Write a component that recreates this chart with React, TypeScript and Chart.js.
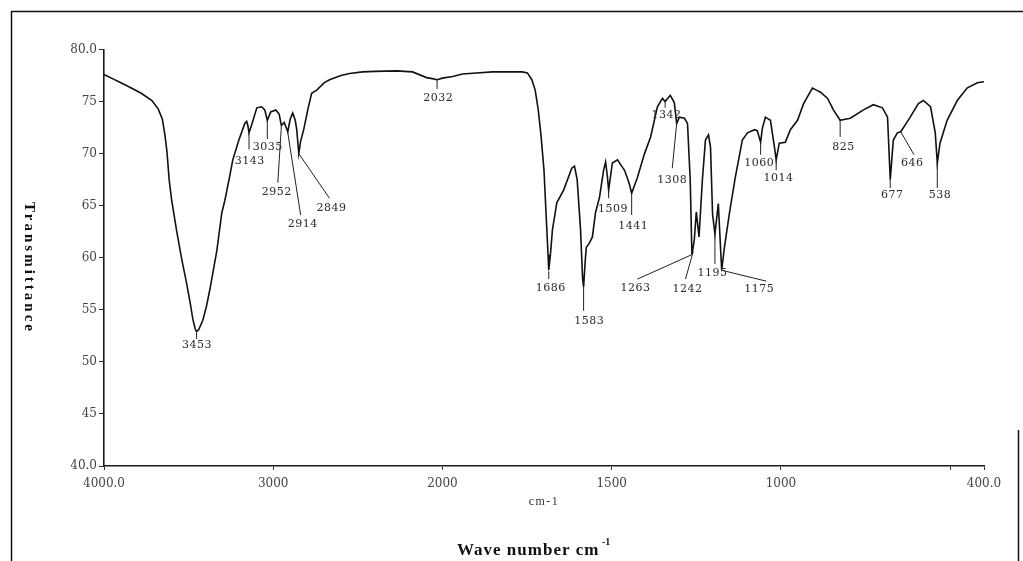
import React, { useEffect, useRef } from "react";
import { Chart, registerables } from "chart.js";

Chart.register(...registerables);

// IR spectrum: wavenumber (cm-1) and % transmittance
const wavenumber = [
  4000, 3950, 3900, 3850, 3780, 3717, 3680, 3655, 3640, 3628, 3615, 3600, 3572, 3540, 3516, 3490,
  3475, 3462, 3453, 3440, 3416, 3395, 3375, 3333, 3304, 3286, 3260, 3239, 3203, 3168, 3157, 3150,
  3143, 3125, 3097, 3068, 3050, 3035, 3015, 2985, 2965, 2952, 2935, 2914, 2900, 2885, 2870, 2861,
  2849, 2838, 2820, 2796, 2773, 2743, 2700, 2667, 2600, 2549, 2472, 2400, 2271, 2177, 2094, 2060,
  2032, 2000, 1970, 1941, 1900, 1852, 1800, 1764, 1749, 1736, 1726, 1717, 1709, 1700, 1693, 1688,
  1686, 1681, 1675, 1662, 1642, 1618, 1610, 1602, 1592, 1586, 1583, 1578, 1575, 1566, 1557, 1548,
  1536, 1524, 1518, 1513, 1509, 1498, 1483, 1462, 1448, 1441, 1424, 1403, 1385, 1365, 1350, 1342,
  1327, 1315, 1308, 1300, 1285, 1276, 1268, 1263, 1256, 1250, 1242, 1232, 1223, 1214, 1208, 1202,
  1195, 1185, 1175, 1167, 1152, 1135, 1114, 1099, 1078, 1070, 1060, 1055, 1046, 1031, 1019, 1014,
  1005, 987, 972, 951, 933, 907, 895, 883, 862, 845, 825, 810, 795, 756, 727, 700,
  685, 677, 668, 656, 646, 618, 594, 579, 558, 544, 538, 530, 509, 479, 450, 420,
  400,
];

const transmittance = [
  77.6, 77.2, 76.8, 76.4, 75.8, 75.1, 74.3, 73.3, 71.8, 70.2, 67.5, 65.5, 62.7, 59.8, 57.9, 55.6,
  54.1, 53.2, 52.9, 53.1, 54.0, 55.3, 56.9, 60.7, 64.3, 65.5, 67.6, 69.4, 71.3, 72.9, 73.1, 72.7,
  72.0, 72.9, 74.4, 74.5, 74.2, 73.2, 74.0, 74.2, 73.8, 72.7, 73.0, 72.1, 73.3, 73.9, 73.2, 72.3,
  70.0, 71.2, 72.3, 74.2, 75.8, 76.1, 76.8, 77.1, 77.5, 77.7, 77.85, 77.9, 77.95, 77.85, 77.3, 77.2,
  77.1, 77.25, 77.4, 77.65, 77.75, 77.85, 77.85, 77.85, 77.75, 77.1, 76.1, 74.2, 71.8, 68.4, 63.6, 60.3,
  58.8, 60.3, 62.7, 65.3, 66.5, 68.6, 68.8, 67.5, 62.7, 58.0, 57.2, 59.8, 61.0, 61.4, 62.0, 64.3,
  65.8, 68.4, 69.2, 67.9, 66.5, 69.1, 69.4, 68.4, 67.1, 66.2, 67.7, 70.0, 71.6, 74.5, 75.3, 75.0,
  75.6, 74.9, 72.9, 73.5, 73.4, 72.9, 67.5, 60.3, 61.7, 64.4, 62.0, 67.5, 71.3, 71.8, 70.6, 64.2,
  62.3, 65.2, 58.8, 61.0, 64.3, 67.7, 71.3, 72.0, 72.3, 72.2, 71.1, 72.4, 73.5, 73.2, 70.6, 69.4,
  71.0, 71.1, 72.3, 73.2, 74.8, 76.3, 76.1, 75.9, 75.3, 74.2, 73.2, 73.3, 73.4, 74.2, 74.7, 74.4,
  73.5, 67.5, 71.3, 72.0, 72.1, 73.5, 74.8, 75.1, 74.5, 72.0, 69.1, 71.0, 73.2, 75.1, 76.3, 76.8,
  76.9,
];

// Axis ticks (cm-1 and %T)
const xTickValues = [4000, 3000, 2000, 1500, 1000, 500, 400];
const xTickText = ["4000.0", "3000", "2000", "1500", "1000", "", "400.0"];
const yTickValues = [80, 75, 70, 65, 60, 55, 50, 45, 40];
const yTickText = ["80.0", "75", "70", "65", "60", "55", "50", "45", "40.0"];

// Band assignments: label text, where it sits, and its leader line (all in cm-1 / %T)
const peakCallouts: { text: string; at: [number, number]; from: [number, number]; to: [number, number] }[] = [
  { text: "3453", at: [3451, 51.6], from: [3453, 52.8], to: [3453, 52.2] },
  { text: "3143", at: [3139, 69.3], from: [3143, 71.9], to: [3143, 70.4] },
  { text: "3035", at: [3032, 70.6], from: [3035, 73.1], to: [3035, 71.4] },
  { text: "2952", at: [2979, 66.3], from: [2973, 67.2], to: [2952, 72.6] },
  { text: "2914", at: [2826, 63.2], from: [2838, 64.1], to: [2914, 72.0] },
  { text: "2849", at: [2655, 64.8], from: [2667, 65.7], to: [2849, 70.0] },
  { text: "2032", at: [2025, 75.3], from: [2032, 77.1], to: [2032, 76.2] },
  { text: "1686", at: [1680, 57.1], from: [1686, 58.7], to: [1686, 57.95] },
  { text: "1583", at: [1566, 53.9], from: [1583, 57.2], to: [1583, 54.9] },
  { text: "1509", at: [1496, 64.7], from: [1509, 66.5], to: [1509, 65.7] },
  { text: "1441", at: [1436, 63.0], from: [1441, 66.2], to: [1441, 64.1] },
  { text: "1342", at: [1338, 73.7], from: [1342, 75.0], to: [1342, 74.4] },
  { text: "1308", at: [1321, 67.5], from: [1321, 68.6], to: [1308, 72.9] },
  { text: "1263", at: [1430, 57.1], from: [1424, 57.95], to: [1263, 60.3] },
  { text: "1242", at: [1276, 57.0], from: [1282, 57.95], to: [1259, 60.6] },
  { text: "1195", at: [1202, 58.5], from: [1195, 59.4], to: [1195, 62.3] },
  { text: "1175", at: [1064, 57.0], from: [1175, 58.8], to: [1043, 57.75] },
  { text: "1060", at: [1064, 69.1], from: [1060, 71.1], to: [1060, 69.9] },
  { text: "1014", at: [1007, 67.6], from: [1014, 69.4], to: [1014, 68.4] },
  { text: "825", at: [815, 70.6], from: [825, 73.2], to: [825, 71.6] },
  { text: "677", at: [671, 66.0], from: [677, 67.5], to: [677, 66.7] },
  { text: "646", at: [612, 69.1], from: [646, 72.1], to: [607, 69.9] },
  { text: "538", at: [530, 66.0], from: [538, 69.1], to: [538, 66.7] },
];

// The wavenumber axis is compressed by half above 2000 cm-1
const toAxis = (w: number) => (w <= 2000 ? w : 2000 + (w - 2000) / 2);
const fromAxis = (u: number) => Math.round(u <= 2000 ? u : 2000 + (u - 2000) * 2);

const W = 1023;
const H = 561;

const decorations = {
  id: "spectrumDecorations",
  beforeDraw(chart: any) {
    const ctx = chart.ctx as CanvasRenderingContext2D;
    ctx.save();
    ctx.fillStyle = "#ffffff";
    ctx.fillRect(0, 0, chart.width, chart.height);
    // outer frame
    ctx.strokeStyle = "#111";
    ctx.lineWidth = 1.5;
    ctx.beginPath();
    ctx.moveTo(11, 11.5);
    ctx.lineTo(W, 11.5);
    ctx.moveTo(11.5, 11);
    ctx.lineTo(11.5, H);
    ctx.moveTo(1018.5, 430);
    ctx.lineTo(1018.5, H);
    ctx.stroke();
    ctx.restore();
  },
  afterDatasetsDraw(chart: any) {
    const ctx = chart.ctx as CanvasRenderingContext2D & { letterSpacing?: string };
    const xs = chart.scales.x;
    const ys = chart.scales.y;
    const px = (w: number) => xs.getPixelForValue(toAxis(w));
    const py = (t: number) => ys.getPixelForValue(t);
    ctx.save();
    ctx.strokeStyle = "#222";
    ctx.lineWidth = 1;
    peakCallouts.forEach((c) => {
      ctx.beginPath();
      ctx.moveTo(px(c.from[0]), py(c.from[1]));
      ctx.lineTo(px(c.to[0]), py(c.to[1]));
      ctx.stroke();
    });
    ctx.fillStyle = "#2a2a2a";
    ctx.font = '11px "DejaVu Serif"';
    ctx.letterSpacing = "0.5px";
    ctx.textAlign = "center";
    ctx.textBaseline = "middle";
    peakCallouts.forEach((c) => {
      ctx.fillText(c.text, px(c.at[0]), py(c.at[1]));
    });
    ctx.restore();
  },
  afterDraw(chart: any) {
    const ctx = chart.ctx as CanvasRenderingContext2D & { letterSpacing?: string };
    ctx.save();
    ctx.fillStyle = "#111";
    ctx.textBaseline = "middle";
    // y-axis title, reading downwards
    ctx.save();
    ctx.translate(29, 268);
    ctx.rotate(Math.PI / 2);
    ctx.font = 'bold 15px "Liberation Serif"';
    ctx.letterSpacing = "3px";
    ctx.textAlign = "center";
    ctx.fillText("Transmittance", 0, 0);
    ctx.restore();
    // unit under the axis
    ctx.font = '12px "Liberation Serif"';
    ctx.letterSpacing = "1.5px";
    ctx.textAlign = "center";
    ctx.fillStyle = "#333";
    ctx.fillText("cm-1", 544, 502);
    // x-axis title
    ctx.fillStyle = "#111";
    ctx.font = 'bold 17px "Liberation Serif"';
    ctx.letterSpacing = "1px";
    ctx.textAlign = "left";
    ctx.fillText("Wave number cm", 457, 551);
    ctx.font = 'bold 10px "Liberation Serif"';
    ctx.letterSpacing = "0px";
    ctx.fillText("-1", 602, 542);
    ctx.restore();
  },
};

export default function App() {
  const canvasRef = useRef<HTMLCanvasElement | null>(null);

  useEffect(() => {
    document.body.style.margin = "0";
    const canvas = canvasRef.current;
    if (!canvas) return;
    const points = wavenumber.map((w, i) => ({ x: toAxis(w), y: transmittance[i] }));
    const tickFont = { family: '"DejaVu Serif"', size: 12 };
    const chart = new Chart(canvas, {
      type: "line",
      data: {
        datasets: [
          {
            data: points,
            borderColor: "#111",
            borderWidth: 1.6,
            pointRadius: 0,
            tension: 0,
            fill: false,
          },
        ],
      },
      options: {
        animation: false,
        responsive: false,
        devicePixelRatio: 1,
        layout: { padding: { left: 0, top: 49.5, right: 39, bottom: 0 } },
        plugins: { legend: { display: false }, tooltip: { enabled: false } },
        scales: {
          x: {
            type: "linear",
            reverse: true,
            min: toAxis(400),
            max: toAxis(4000),
            afterBuildTicks: (scale: any) => {
              scale.ticks = xTickValues.map((v) => ({ value: toAxis(v) }));
            },
            afterFit: (scale: any) => {
              scale.height = 95;
            },
            ticks: {
              autoSkip: false,
              maxRotation: 0,
              padding: 7,
              color: "#444",
              font: tickFont,
              callback: (v: any) => {
                const i = xTickValues.indexOf(fromAxis(Number(v)));
                return i >= 0 ? xTickText[i] : "";
              },
            },
            grid: { drawOnChartArea: false, tickLength: 4, color: "#333" },
            border: { color: "#1a1a1a", width: 1.6 },
          },
          y: {
            type: "linear",
            min: 40,
            max: 80,
            afterBuildTicks: (scale: any) => {
              scale.ticks = yTickValues.map((v) => ({ value: v }));
            },
            afterFit: (scale: any) => {
              scale.width = 104;
            },
            ticks: {
              padding: 2,
              color: "#444",
              font: tickFont,
              callback: (v: any) => {
                const i = yTickValues.indexOf(Number(v));
                return i >= 0 ? yTickText[i] : "";
              },
            },
            grid: { drawOnChartArea: false, tickLength: 5, color: "#333" },
            border: { color: "#1a1a1a", width: 1.6 },
          },
        },
      },
      plugins: [decorations],
    });
    return () => chart.destroy();
  }, []);

  return (
    <div style={{ width: W, height: H }}>
      <canvas ref={canvasRef} width={W} height={H} style={{ display: "block" }} />
    </div>
  );
}
